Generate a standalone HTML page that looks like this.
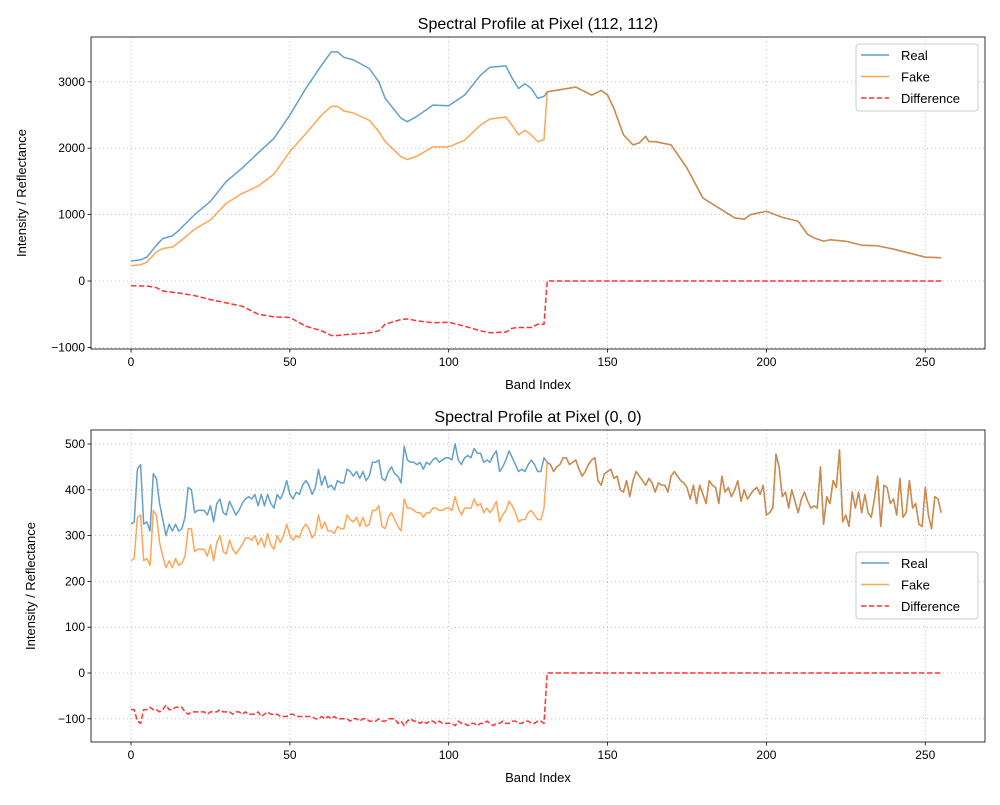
<!DOCTYPE html>
<html><head><meta charset="utf-8">
<style>
body{margin:0;background:#fff;}
svg text{font-family:"Liberation Sans","DejaVu Sans",sans-serif;fill:#000;}
</style></head>
<body>
<svg id="fig" width="1000" height="800" xmlns="http://www.w3.org/2000/svg">
<rect width="1000" height="800" fill="#fff"/>
</svg>
<script>
// ---- Top chart data (pixel 112,112) ----
const topBands=[0,3,5,8,10,13,15,20,25,30,35,40,45,50,55,60,63,65,67,70,75,78,80,85,87,90,95,100,105,110,113,118,120,122,124,126,128,130,131,135,140,145,148,150,152,155,158,160,162,163,165,170,175,180,185,190,193,195,200,205,210,213,215,218,220,225,230,235,240,245,250,255];
const topReal=[300,320,360,540,640,680,760,1000,1200,1500,1700,1930,2150,2500,2900,3250,3450,3450,3370,3330,3200,3000,2750,2450,2400,2480,2650,2640,2800,3100,3220,3240,3050,2900,2970,2900,2750,2780,2850,2880,2920,2800,2870,2800,2600,2200,2050,2080,2180,2100,2100,2050,1700,1250,1100,950,930,1000,1050,960,900,700,650,600,620,600,540,530,480,420,360,350];
const topFake=[230,245,285,440,490,510,580,780,920,1170,1320,1430,1610,1950,2220,2500,2630,2630,2560,2530,2420,2250,2100,1870,1830,1880,2020,2020,2120,2350,2440,2470,2340,2200,2270,2200,2100,2130,2850,2880,2920,2800,2870,2800,2600,2200,2050,2080,2180,2100,2100,2050,1700,1250,1100,950,930,1000,1050,960,900,700,650,600,620,600,540,530,480,420,360,350];
const topYTicks=[-1000,0,1000,2000,3000];
const xTicks=[0,50,100,150,200,250];
// ---- Bottom chart data (pixel 0,0) ----
const botReal=[325,330,445,455,325,330,310,435,425,370,
335,300,325,310,325,310,315,340,405,400,
350,355,355,355,345,365,330,370,380,350,
345,375,360,345,355,370,380,385,380,390,
365,390,365,390,370,360,390,380,395,420,
390,380,395,390,410,420,410,390,405,445,
410,430,405,410,400,420,415,415,445,440,
430,440,425,440,420,430,460,460,465,425,
420,440,450,435,430,415,495,465,460,460,
455,460,445,460,455,465,470,460,465,470,
470,465,500,465,455,470,475,470,490,480,
480,460,465,460,475,485,440,450,465,485,
470,455,440,445,440,455,465,455,440,440,
470,460,455,440,450,455,470,470,455,460,
465,445,430,440,455,465,470,420,410,435,
440,445,425,430,400,395,420,385,420,440,
430,420,410,425,415,395,415,410,410,395,
430,440,430,420,415,405,380,410,370,410,
390,370,420,410,405,370,430,395,405,385,
400,420,375,400,380,390,400,405,390,410,
345,350,360,478,450,385,395,360,400,375,
350,380,395,375,360,365,360,450,325,385,
370,420,405,487,330,345,320,395,360,395,
350,390,350,340,380,430,320,410,405,370,
380,345,425,340,350,420,360,370,325,320,
405,345,315,385,380,350];
const botDiff=[-80,-80,-105,-110,-80,-80,-75,-80,-80,-85,
-80,-70,-80,-80,-75,-75,-75,-85,-90,-85,
-85,-85,-85,-85,-90,-85,-85,-85,-80,-85,
-85,-85,-90,-85,-85,-90,-85,-90,-90,-90,
-85,-95,-90,-85,-90,-90,-90,-95,-95,-95,
-90,-90,-95,-95,-95,-95,-95,-95,-100,-100,
-95,-100,-95,-100,-95,-100,-100,-100,-100,-105,
-100,-100,-105,-100,-100,-105,-105,-105,-100,-105,
-105,-100,-100,-100,-110,-105,-115,-105,-100,-105,
-105,-110,-105,-110,-105,-105,-110,-105,-110,-110,
-110,-110,-115,-105,-110,-110,-115,-110,-110,-115,
-110,-110,-105,-110,-115,-110,-110,-105,-110,-110,
-105,-105,-110,-110,-105,-105,-110,-110,-105,-105,
-110];
const botYTicks=[-100,0,100,200,300,400,500];

const NS="http://www.w3.org/2000/svg";
const svg=document.getElementById('fig');
function mk(tag,attrs,parent){const e=document.createElementNS(NS,tag);for(const k in attrs)e.setAttribute(k,attrs[k]);(parent||svg).appendChild(e);return e;}

function drawAxes(o){
  const g=mk('g',{});
  
  
  const X=v=>o.x0+(v-o.xmin)/(o.xmax-o.xmin)*(o.x1-o.x0);
  const Y=v=>o.y1-(v-o.ymin)/(o.ymax-o.ymin)*(o.y1-o.y0);
  // grid
  xTicks.forEach(t=>{mk('line',{x1:X(t),x2:X(t),y1:o.y0,y2:o.y1,stroke:'#b0b0b0','stroke-width':0.8,'stroke-dasharray':'1,3'},g);});
  o.yTicks.forEach(t=>{mk('line',{x1:o.x0,x2:o.x1,y1:Y(t),y2:Y(t),stroke:'#b0b0b0','stroke-width':0.8,'stroke-dasharray':'1,3'},g);});
  // ticks + labels
  xTicks.forEach(t=>{mk('line',{x1:X(t),x2:X(t),y1:o.y1,y2:o.y1+3.5,stroke:'#000','stroke-width':0.8},g);
    const tx=mk('text',{x:X(t),y:o.y1+17,'font-size':12,'text-anchor':'middle'},g);tx.textContent=t;
    
    });
  o.yTicks.forEach(t=>{mk('line',{x1:o.x0-3.5,x2:o.x0,y1:Y(t),y2:Y(t),stroke:'#000','stroke-width':0.8},g);
    const tx=mk('text',{x:o.x0-6,y:Y(t)+4,'font-size':12,'text-anchor':'end'},g);tx.textContent=t<0?'\u2212'+Math.abs(t):t;
    
    });
  // series
  const path=(xs,ys,attrs,name)=>{let d='';xs.forEach((x,i)=>{d+=(i?'L':'M')+X(x).toFixed(1)+','+Y(ys[i]).toFixed(1);});
    const p=mk('path',Object.assign({d:d,fill:'none','stroke-linejoin':'round'},attrs),g);
    
    };
  path(o.xs,o.real,{stroke:'#1f77b4','stroke-width':1.5,'stroke-opacity':0.7},'real-line');
  path(o.xs,o.fake,{stroke:'#ff7f0e','stroke-width':1.5,'stroke-opacity':0.7},'fake-line');
  path(o.xs,o.diff,{stroke:'#ff0000','stroke-width':1.5,'stroke-opacity':0.8,'stroke-dasharray':'5.5,2.4'},'difference-line');
  mk('rect',{x:o.x0,y:o.y0,width:o.x1-o.x0,height:o.y1-o.y0,fill:'none',stroke:'#000','stroke-width':0.8},g);
  const ti=mk('text',{x:(o.x0+o.x1)/2,y:o.y0-8,'font-size':16,'text-anchor':'middle'},g);ti.textContent=o.title;
  
  
  const xl=mk('text',{x:(o.x0+o.x1)/2,y:o.y1+40,'font-size':13,'text-anchor':'middle'},g);xl.textContent='Band Index';
  
  
  const yl=mk('text',{x:o.ylx,y:(o.y0+o.y1)/2,'font-size':13,'text-anchor':'middle',transform:`rotate(-90 ${o.ylx} ${(o.y0+o.y1)/2})`},g);yl.textContent='Intensity / Reflectance';
  
  
  // legend
  const lg=mk('g',{},g);
  
  
  mk('rect',{x:856,y:o.ly,width:122,height:67,rx:3,fill:'#fff','fill-opacity':0.8,stroke:'#ccc','stroke-width':1},lg);
  const items=[['Real','#1f77b4',0.7,null],['Fake','#ff7f0e',0.7,null],['Difference','#ff0000',0.8,'5.5,2.4']];
  items.forEach((it,i)=>{const yy=o.ly+11+i*21.5;
    const a={x1:861,x2:889,y1:yy,y2:yy,stroke:it[1],'stroke-width':1.5,'stroke-opacity':it[2]};if(it[3])a['stroke-dasharray']=it[3];
    mk('line',a,lg);
    const t=mk('text',{x:901,y:yy+5,'font-size':13},lg);t.textContent=it[0];
    
    });
}

const topDiff=topBands.map((b,i)=>b<=130?topFake[i]-topReal[i]:0);
drawAxes({name:'top-chart',x0:91,x1:985,y0:37,y1:349,xmin:-12.6,xmax:268.8,ymin:-1024,ymax:3675,
  yTicks:topYTicks,xs:topBands,real:topReal,fake:topFake,diff:topDiff,title:'Spectral Profile at Pixel (112, 112)',ylx:26,ly:44});

const bx=botReal.map((v,i)=>i);
const botFake=botReal.map((v,i)=>i<=130?v+botDiff[i]:v);
const botD=botReal.map((v,i)=>i<=130?botDiff[i]:0);
drawAxes({name:'bottom-chart',x0:91,x1:985,y0:430,y1:742,xmin:-12.6,xmax:268.8,ymin:-150.7,ymax:530.6,
  yTicks:botYTicks,xs:bx,real:botReal,fake:botFake,diff:botD,title:'Spectral Profile at Pixel (0, 0)',ylx:35,ly:552});
</script>
</body></html>
